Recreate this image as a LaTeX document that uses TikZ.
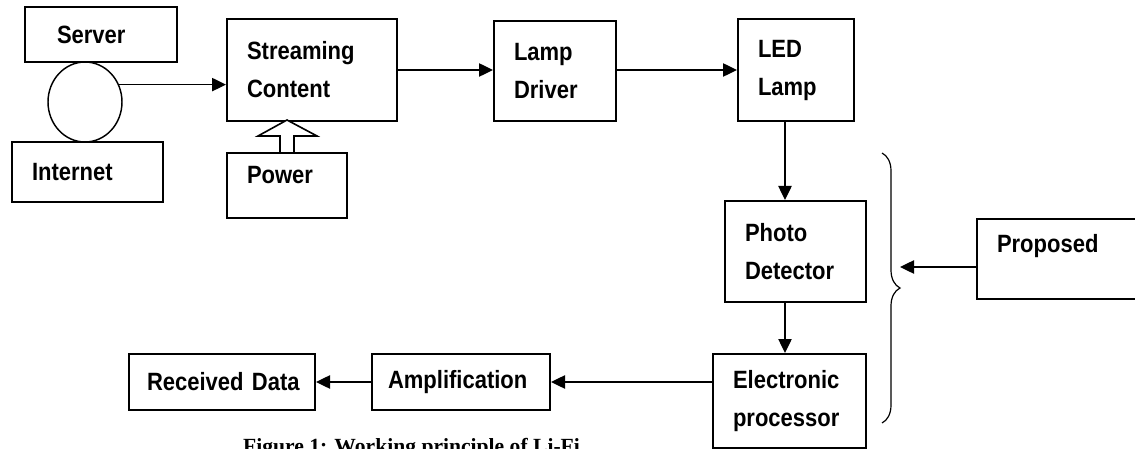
\documentclass[tikz,border=0pt]{standalone}
\usepackage{fontspec}
\setmainfont{Liberation Sans}[FakeStretch=0.88]
\newfontfamily\capfont{Liberation Serif}
\usetikzlibrary{arrows.meta,shapes.geometric,decorations.pathreplacing}

\begin{document}
\begin{tikzpicture}[x=0.75pt,y=-0.75pt,
  blk/.style 2 args={draw,line width=1.5pt,inner xsep=15pt,text width=#1,minimum height=#2,align=left,
    font=\bfseries\fontsize{18.75pt}{28.5pt}\selectfont},
  arr/.style={line width=1pt,-{Triangle[length=10.5pt,width=10pt]}}]
\useasboundingbox (0,0) rectangle (1135,449);
\clip (0,0) rectangle (1135,449);
\node[blk={66pt}{41.25pt},inner xsep=24pt] (server) at (101,34.5) {Server};
\node[blk={83.25pt}{45pt}] (internet) at (87.5,172) {Internet};
\node[draw,ellipse,line width=1.1pt,minimum width=55.5pt,minimum height=60pt,inner sep=0pt] (net) at (85,102) {};
\node[blk={97.5pt}{76.5pt}] (stream) at (312,70) {Streaming\\Content};
\node[blk={60pt}{48.75pt},text depth=15.75pt] (power) at (287,185.5) {Power};
\node[blk={61.5pt}{75pt}] (lamp) at (555,71) {Lamp\\Driver};
\node[blk={57pt}{76.5pt}] (led) at (796,70) {LED\\Lamp};
\node[blk={75.75pt}{75.75pt}] (pd) at (795.5,251.5) {Photo\\Detector};
\node[blk={84.75pt}{70.5pt}] (elec) at (789.5,401) {Electronic\\processor};
\node[blk={92.25pt}{60pt},text depth=24pt] (prop) at (1058.5,259) {Proposed};
\node[blk={112.5pt}{42pt},inner xsep=13.5pt] (recv) at (222,382) {Received~Data};
\node[blk={109.5pt}{42pt},inner xsep=12pt] (amp) at (461,382) {Amplification};
\node[font=\capfont\bfseries\fontsize{16.2pt}{19pt}\selectfont,anchor=base] (cap) at (411.5,453) {Figure 1: Working principle of Li-Fi};
\coordinate (dn) at (785,0);
\coordinate (bt) at (882,153);
\coordinate (bb) at (882,423);
\coordinate (tip) at (900,267);
\draw[arr] (net.27) -- (net.27 -| stream.west);
\draw[arr] (stream.east) -- (stream.east -| lamp.west);
\draw[arr] (lamp.east |- stream.east) -- (stream.east -| led.west);
\draw[arr] (led.south -| dn) -- (pd.north -| dn);
\draw[arr] (pd.south -| dn) -- (elec.north -| dn);
\draw[arr] (amp.east -| elec.west) -- (amp.east);
\draw[arr] (amp.west) -- (recv.east);
\draw[arr] (tip -| prop.west) -- (tip);
\draw[line width=1.2pt,fill=white] (power.north) ++(-7,0) -- ++(0,-16) -- ++(-22,0) -- ++(29,-16) -- ++(30,16) -- ++(-23,0) -- ++(0,16);
\draw[line width=0.9pt,decorate,decoration={brace,amplitude=13.5pt}] (bt) -- (bb);
\end{tikzpicture}
\end{document}
